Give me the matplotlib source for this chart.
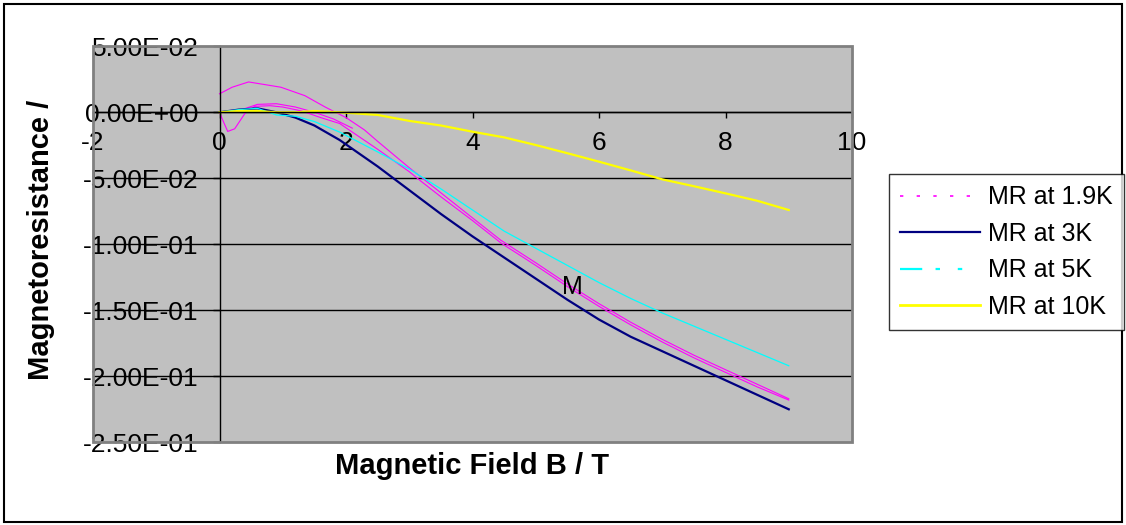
import numpy as np
import matplotlib
matplotlib.use("Agg")
import matplotlib.pyplot as plt
from matplotlib.patches import Rectangle
from matplotlib.ticker import FuncFormatter

plt.rcParams['font.family'] = ['Liberation Sans', 'DejaVu Sans']
plt.rcParams['axes.unicode_minus'] = False

# ---- data ----
# MR at 1.9K : three sweeps (hysteresis)
mr19_a_x = [0, 0.07, 0.13, 0.24, 0.4, 0.56, 0.8, 1.0, 1.3, 1.6, 1.9, 2.5, 3.0, 3.18, 3.5, 4.0, 4.45,
            5.0, 5.5, 6.0, 6.5, 7.0, 7.5, 8.0, 8.5, 9.0]
mr19_a_y = [0, -0.008, -0.0145, -0.0125, -0.001, 0.0045, 0.005, 0.004, 0.001, -0.004, -0.0085, -0.028,
            -0.045, -0.052, -0.064, -0.082, -0.099, -0.116, -0.132, -0.147, -0.161, -0.174, -0.186,
            -0.197, -0.208, -0.218]
mr19_b_x = [9.0, 8.5, 8.0, 7.5, 7.0, 6.5, 6.0, 5.5, 5.0, 4.45, 4.0, 3.5, 3.0, 2.5, 2.29, 2.0, 1.67,
            1.35, 0.97, 0.46, 0.2, 0]
mr19_b_y = [-0.217, -0.206, -0.195, -0.184, -0.172, -0.159, -0.145, -0.130, -0.114, -0.097, -0.080,
            -0.061, -0.042, -0.022, -0.0133, -0.004, 0.004, 0.0126, 0.019, 0.023, 0.019, 0.014]
mr19_c_x = [0.35, 0.6, 0.9, 1.2, 1.5, 1.8, 2.1]
mr19_c_y = [0.002, 0.006, 0.0065, 0.004, 0.0, -0.005, -0.012]

field = [0, 0.3, 0.6, 0.9, 1.2, 1.5, 1.9, 2.5, 3.0, 3.5, 4.0, 4.5, 5.0, 5.5, 6.0, 6.5, 7.0, 7.5,
         8.0, 8.5, 9.0]
mr3 = [0, 0.002, 0.003, 0.0, -0.004, -0.010, -0.021, -0.041, -0.059, -0.077, -0.094, -0.110,
       -0.126, -0.142, -0.157, -0.170, -0.181, -0.192, -0.203, -0.214, -0.225]
mr5 = [0, 0.002, 0.003, -0.002, -0.003, -0.007, -0.015, -0.030, -0.043, -0.058, -0.074, -0.090,
       -0.103, -0.116, -0.129, -0.141, -0.152, -0.162, -0.172, -0.182, -0.192]
mr10 = [0, 0.001, 0.001, 0.0, 0.0, 0.001, 0.0, -0.002, -0.0065, -0.010, -0.0147, -0.019, -0.0248,
        -0.031, -0.0374, -0.044, -0.0508, -0.056, -0.0614, -0.067, -0.074]

labels = ["MR at 1.9K", "MR at 3K", "MR at 5K", "MR at 10K"]
x_ticks = [-2, 0, 2, 4, 6, 8, 10]
y_ticks = [0.05, 0.0, -0.05, -0.10, -0.15, -0.20, -0.25]

# ---- figure ----
W, H = 1126, 525
fig = plt.figure(figsize=(W / 100, H / 100), dpi=100)
fig.patch.set_facecolor('white')
fig.add_artist(Rectangle((3.5 / W, 3.5 / H), 1 - 7.5 / W, 1 - 7.5 / H, transform=fig.transFigure,
                         fill=False, edgecolor='black', linewidth=1.5))

L, R, T, B = 93, 852, 46.3, 442.3
ax = fig.add_axes([L / W, 1 - B / H, (R - L) / W, (B - T) / H])
ax.set_facecolor('#C0C0C0')

x19 = mr19_a_x + [np.nan] + mr19_b_x + [np.nan] + mr19_c_x
y19 = mr19_a_y + [np.nan] + mr19_b_y + [np.nan] + mr19_c_y
ax.plot(x19, y19, color='#FF00FF', lw=0.8, label=labels[0])
ax.plot(field, mr3, color='#000080', lw=1.6, label=labels[1])
ax.plot(field, mr5, color='#00FFFF', lw=0.9, label=labels[2])
ax.plot(field, mr10, color='#FFFF00', lw=1.6, label=labels[3])

ax.set_xlim(x_ticks[0], x_ticks[-1])
ax.set_ylim(y_ticks[-1], y_ticks[0])
ax.set_xticks(x_ticks)
ax.set_yticks(y_ticks)
ax.yaxis.set_major_formatter(FuncFormatter(lambda v, p: f"{0.0 if abs(v) < 1e-12 else v:.2E}"))

for s in ('top', 'right'):
    ax.spines[s].set_visible(False)
ax.spines['left'].set_position(('data', 0))
ax.spines['bottom'].set_position(('data', 0))
ax.spines['left'].set_linewidth(1.0)
ax.spines['bottom'].set_linewidth(1.0)
ax.add_patch(Rectangle((0, 0), 1, 1, transform=ax.transAxes, fill=False,
                       edgecolor='#808080', linewidth=2, zorder=5, clip_on=False))

ax.tick_params(axis='y', direction='out', length=5, width=1, pad=10, labelsize=19)
ax.tick_params(axis='x', direction='out', length=4.5, width=1, pad=9, labelsize=19)
ax.grid(axis='y', color='black', linewidth=1.0)
ax.set_axisbelow(True)
glines = ax.yaxis.get_gridlines()
glines[0].set_visible(False)
glines[-1].set_visible(False)

ax.set_xlabel("Magnetic Field B / T", fontsize=21, fontweight='bold')
ax.xaxis.set_label_coords(0.5, -0.025)
ax.set_ylabel("Magnetoresistance /", fontsize=21, fontweight='bold')
ax.yaxis.set_label_coords(-0.05, 0.51)

ax.text(5.58, -0.1325, "M", fontsize=18, ha='center', va='center')

leg = fig.legend(loc='upper left', bbox_to_anchor=(889 / W, 1 - 174 / H), borderaxespad=0,
                 fontsize=18, frameon=True, fancybox=False, edgecolor='black',
                 handlelength=3.2, labelspacing=0.5, borderpad=0.45, handletextpad=0.3)
leg.get_frame().set_linewidth(1.0)
lines = leg.get_lines()
lines[0].set_linestyle((0, (2, 8)))
lines[0].set_linewidth(1.2)
lines[1].set_linewidth(1.6)
lines[2].set_linestyle((0, (10, 6, 2, 8, 2, 8)))
lines[2].set_linewidth(1.6)
lines[3].set_linewidth(2.0)

fig.savefig("out.png", dpi=100)
